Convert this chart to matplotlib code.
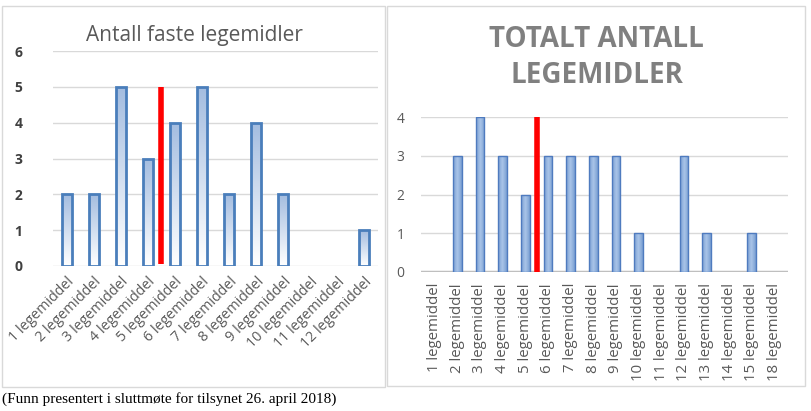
import numpy as np
import matplotlib.pyplot as plt
from matplotlib.patches import Rectangle
from matplotlib.colors import LinearSegmentedColormap

# venstre diagram
kat_v = ['1 legemiddel', '2 legemiddel', '3 legemiddel', '4 legemiddel', '5 legemiddel',
         '6 legemiddel', '7 legemiddel', '8 legemiddel', '9 legemiddel', '10 legemiddel',
         '11 legemiddel', '12 legemiddel']
ant_v = [2, 2, 5, 3, 4, 5, 2, 4, 2, 0, 0, 1]

# hoyre diagram
kat_h = ['1 legemiddel', '2 legemiddel', '3 legemiddel', '4 legemiddel', '5 legemiddel',
         '6 legemiddel', '7 legemiddel', '8 legemiddel', '9 legemiddel', '10 legemiddel',
         '11 legemiddel', '12 legemiddel', '13 legemiddel', '14 legemiddel', '15 legemiddel',
         '18 legemiddel']
ant_h = [0, 3, 4, 3, 2, 3, 3, 3, 3, 1, 0, 3, 1, 0, 1, 0]

# rod strek (posisjon mellom kategorier, hoyde)
rod_v = (3.5, 5)
rod_h = (4.5, 4)

font = 'Open Sans'
fig = plt.figure(figsize=(8.12, 4.11), dpi=100)

# rammer rundt diagrammene
fig.patches.append(Rectangle((0.0025, 0.0584), 0.4717, 0.927, transform=fig.transFigure,
                             fill=False, edgecolor='#d9d9d9', lw=1))
fig.patches.append(Rectangle((0.4766, 0.0608), 0.5148, 0.9246, transform=fig.transFigure,
                             fill=False, edgecolor='#d9d9d9', lw=1))


def gradient_bars(ax, bars, cmap, horisontal=False):
    for b in bars:
        h = b.get_height()
        if h <= 0:
            b.set_visible(False)  # ingen strek for null-verdier
            continue
        x, y, w = b.get_x(), b.get_y(), b.get_width()
        if horisontal:
            g = np.abs(np.linspace(-1, 1, 50))[None, :]
        else:
            g = np.linspace(1, 0, 50)[:, None]
        im = ax.imshow(g, cmap=cmap, aspect='auto', extent=(x, x + w, y, y + h),
                       vmin=0, vmax=1, zorder=2, interpolation='bilinear')
        im.set_clip_path(b)
    ax.set_aspect('auto')


# ---- venstre ----
ax1 = fig.add_axes([0.0653, 0.3528, 0.4002, 0.5231])
x1 = np.arange(len(kat_v))
bars1 = ax1.bar(x1, ant_v, width=0.37, facecolor='none', edgecolor='#4a7ebb', lw=2, zorder=3)
cm1 = LinearSegmentedColormap.from_list('v', ['#ffffff', '#a4bde0'])
gradient_bars(ax1, bars1, cm1)
ax1.vlines(rod_v[0], 0.05, rod_v[1], color='#ff0000', lw=4, zorder=4)
ax1.set_xlim(-0.5, len(kat_v) - 0.5)
ax1.set_ylim(0, 6)
ax1.set_yticks(range(7))
ax1.grid(axis='y', color='#d9d9d9', lw=1)
ax1.set_axisbelow(True)
for s in ax1.spines.values():
    s.set_visible(False)
ax1.tick_params(length=0)
ax1.tick_params(axis='y', pad=22)
ax1.set_yticklabels([str(i) for i in range(7)], fontweight='bold', color='#404040',
                    fontsize=10, family=font)
ax1.set_xticks(x1)
ax1.set_xticklabels(kat_v, rotation=45, ha='right', rotation_mode='anchor',
                    color='#595959', fontsize=10.3, family=font)
ax1.tick_params(axis='x', pad=6)
fig.text(0.239, 0.913, 'Antall faste legemidler', ha='center', va='center',
         fontsize=15, color='#595959', family=font)

# ---- hoyre ----
ax2 = fig.add_axes([0.5185, 0.3382, 0.4520, 0.3771])
x2 = np.arange(len(kat_h))
bars2 = ax2.bar(x2, ant_h, width=0.38, facecolor='none', edgecolor='#4f7bbf', lw=1, zorder=3)
cm2 = LinearSegmentedColormap.from_list('h', ['#a9c4e8', '#7a9fd2'])
gradient_bars(ax2, bars2, cm2, horisontal=True)
ax2.vlines(rod_h[0], -0.05, rod_h[1], color='#ff0000', lw=4, zorder=4)
ax2.set_xlim(-0.6, len(kat_h) - 0.4)
ax2.set_ylim(0, 4)
ax2.set_yticks(range(5))
ax2.grid(axis='y', color='#d9d9d9', lw=1)
ax2.set_axisbelow(True)
for s in ax2.spines.values():
    s.set_visible(False)
ax2.axhline(0, color='#bfbfbf', lw=2.5, zorder=1)
ax2.tick_params(length=0)
ax2.tick_params(axis='y', pad=12)
ax2.set_yticklabels([str(i) for i in range(5)], color='#595959', fontsize=10, family=font)
ax2.set_xticks(x2)
ax2.set_xticklabels(kat_h, rotation=90, ha='center', va='top',
                    color='#595959', fontsize=10.8, family=font)
ax2.tick_params(axis='x', pad=8)
fig.text(0.735, 0.86, 'TOTALT ANTALL\nLEGEMIDLER', ha='center', va='center',
         fontsize=20, fontweight='bold', color='#808080', family=font, linespacing=1.3)

fig.text(0.003, 0.03, '(Funn presentert i sluttmøte for tilsynet 26. april 2018)',
         ha='left', va='center', fontsize=11, family='Liberation Serif', color='black')

fig.savefig('out.png', dpi=100, facecolor='white')
